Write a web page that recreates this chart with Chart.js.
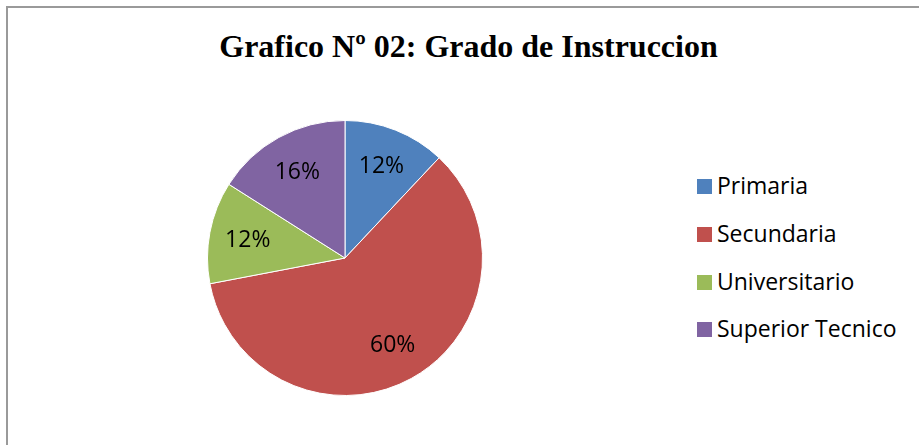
<!DOCTYPE html>
<html>
<head>
<meta charset="utf-8">
<script src="https://cdn.jsdelivr.net/npm/chart.js@4"></script>
<style>
  html, body { margin: 0; padding: 0; background: #fff; }
  body { width: 919px; height: 445px; position: relative; overflow: hidden; }
  #marco { position: absolute; left: 6px; top: 6px; width: 1000px; height: 1000px;
           border: 2px solid #9a9a9a; box-sizing: border-box; }
  #titulo { position: absolute; left: 0; top: 30px; width: 937px; text-align: center;
            font: bold 32px "Liberation Serif", "Times New Roman", serif; line-height: 32px; color: #000; }
  #grafica { position: absolute; left: 195px; top: 108px; width: 300px; height: 300px; }
  .leyenda { position: absolute; left: 697px; height: 23px; font: 23px "Open Sans", Arial, sans-serif;
             line-height: 23px; color: #000; white-space: nowrap; }
  .leyenda span { position: absolute; left: 0; top: 5px; width: 15px; height: 15px; }
  .leyenda b { font-weight: normal; position: absolute; left: 20px; top: 0; }
</style>
</head>
<body>
<div id="marco"></div>
<div id="titulo">Grafico Nº 02: Grado de Instruccion</div>
<div id="grafica"><canvas id="pie"></canvas></div>
<div id="leyenda"></div>
<script>
// Datos de la grafica
const categorias = ["Primaria", "Secundaria", "Universitario", "Superior Tecnico"];
const porcentajes = [12, 60, 12, 16];
const colores = ["#4F81BD", "#C0504D", "#9BBB59", "#8064A2"];

// leyenda a la derecha (HTML)
const leyenda = document.getElementById("leyenda");
categorias.forEach((nombre, i) => {
    const fila = document.createElement("div");
    fila.className = "leyenda";
    fila.style.top = (174 + i * 47.8) + "px";
    fila.innerHTML = '<span style="background:' + colores[i] + '"></span><b>' + nombre + '</b>';
    leyenda.appendChild(fila);
});

// etiquetas de porcentaje dentro de cada sector
const etiquetas = {
    id: "etiquetas",
    afterDatasetsDraw(chart) {
        const ctx = chart.ctx;
        const meta = chart.getDatasetMeta(0);
        ctx.save();
        ctx.font = '23px "Open Sans", Arial, sans-serif';
        ctx.fillStyle = "#000";
        ctx.textAlign = "center";
        ctx.textBaseline = "middle";
        meta.data.forEach((arc, i) => {
            const p = arc.getProps(["x", "y", "startAngle", "endAngle", "outerRadius"], true);
            const mid = (p.startAngle + p.endAngle) / 2;
            const r = p.outerRadius * 0.72;
            ctx.fillText(porcentajes[i] + "%", p.x + Math.cos(mid) * r, p.y + Math.sin(mid) * r + 1);
        });
        ctx.restore();
    }
};

const ctx = document.getElementById("pie").getContext("2d");
new Chart(ctx, {
    type: "pie",
    data: {
        labels: categorias,
        datasets: [{
            data: porcentajes,
            backgroundColor: colores,
            borderColor: "#ffffff",
            borderWidth: 1,
        }],
    },
    options: {
        responsive: true,
        maintainAspectRatio: false,
        animation: false,
        layout: { padding: 12 },
        plugins: {
            legend: { display: false },
            title: { display: false },
            tooltip: { enabled: false },
        },
    },
    plugins: [etiquetas],
});
</script>
</body>
</html>
